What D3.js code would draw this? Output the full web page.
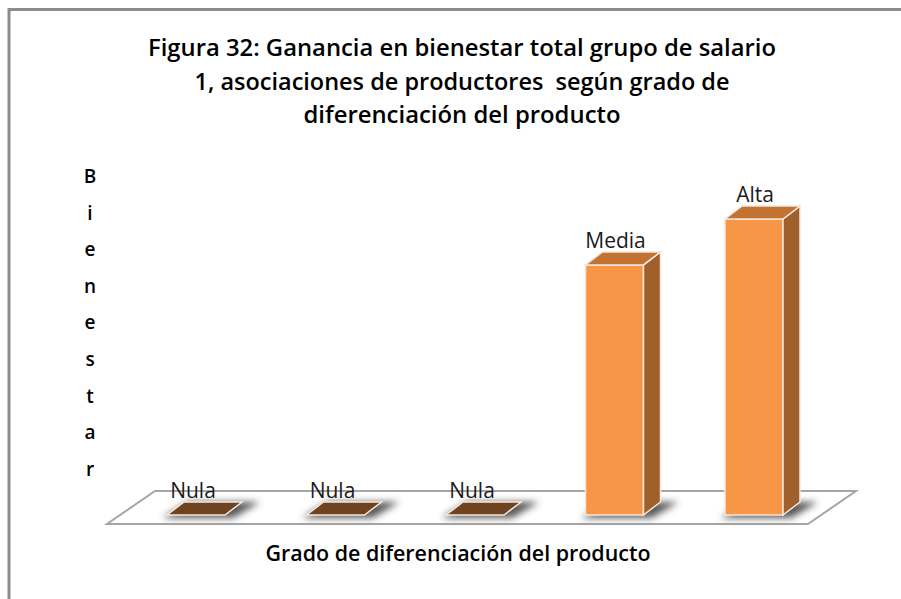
<!DOCTYPE html>
<html>
  <head>
    <meta charset="utf-8" />
    <title>Figura 32</title>
    <script src="https://d3js.org/d3.v7.min.js"></script>
    <style>
      body { margin: 0; background: #fff; }
    </style>
  </head>
  <body>
    <script>
      // datos
      const categorias = ['Nula', 'Nula', 'Nula', 'Media', 'Alta'];
      const valores = [0, 0, 0, 8.45, 10];
      const titulo = [
        'Figura 32: Ganancia en bienestar total grupo de salario',
        '1, asociaciones de productores  según grado de',
        'diferenciación del producto',
      ];
      const ejeY = 'Bienestar';
      const ejeX = 'Grado de diferenciación del producto';

      const W = 901, H = 599;
      const svg = d3.select('body').append('svg').attr('width', W).attr('height', H);

      const defs = svg.append('defs');
      defs.append('filter').attr('id', 'sombra').attr('x', '-30%').attr('y', '-100%')
        .attr('width', '160%').attr('height', '300%')
        .append('feGaussianBlur').attr('stdDeviation', 3.5);

      // marco
      svg.append('path')
        .attr('d', 'M9,599 V9.5 H901')
        .attr('fill', 'none')
        .attr('stroke', '#8c8c8c')
        .attr('stroke-width', 3);

      // titulo
      const tituloFont = '"Open Sans", "Liberation Sans", Arial, sans-serif';
      const anchos = [628, 535, 317];
      const bases = [56, 90, 123];
      svg.selectAll('text.titulo')
        .data(titulo)
        .enter()
        .append('text')
        .attr('class', 'titulo')
        .attr('x', 462)
        .attr('y', (d, i) => bases[i])
        .attr('text-anchor', 'middle')
        .attr('textLength', (d, i) => anchos[i])
        .attr('lengthAdjust', 'spacingAndGlyphs')
        .style('font-family', tituloFont)
        .style('font-weight', 600)
        .style('font-size', '23px')
        .style('white-space', 'pre')
        .style('fill', '#000')
        .text((d) => d);

      // escalas
      const x = d3.scalePoint().domain(d3.range(categorias.length)).range([196, 754]);
      const y = d3.scaleLinear().domain([0, 10]).range([515, 219]);
      const bw = 58;
      const dx = 17, dy = -13;
      const y0 = y(0);

      // piso
      const fx0 = x(0) - 89, fx1 = x(categorias.length - 1) + 54;
      const fy = y0 + 9;
      const fdx = 48, fdy = -33;
      svg.append('polygon')
        .attr('points', [
          [fx0, fy], [fx1, fy], [fx1 + fdx, fy + fdy], [fx0 + fdx, fy + fdy],
        ].map((p) => p.join(',')).join(' '))
        .attr('fill', '#fff')
        .attr('stroke', '#a6a6a6')
        .attr('stroke-width', 2);

      const barras = svg.selectAll('g.barra')
        .data(valores.map((v, i) => ({ v, i, c: categorias[i] })))
        .enter()
        .append('g')
        .attr('class', 'barra');

      // sombras
      barras.append('polygon')
        .attr('points', (d) => {
          const a = x(d.i) - bw / 2, b = a + bw;
          return [
            [a - 4, y0 + 3], [b + 8, y0 + 3], [b + dx + 18, y0 + dy], [a + dx + 4, y0 + dy],
          ].map((p) => p.join(',')).join(' ');
        })
        .attr('fill', '#3a3a3a')
        .attr('opacity', 0.85)
        .attr('filter', 'url(#sombra)');

      const borde = '#f6e7dc';

      // cara frontal
      barras.filter((d) => d.v > 0)
        .append('rect')
        .attr('x', (d) => x(d.i) - bw / 2)
        .attr('y', (d) => y(d.v))
        .attr('width', bw)
        .attr('height', (d) => y0 - y(d.v))
        .attr('fill', '#f79646')
        .attr('stroke', borde)
        .attr('stroke-width', 1.5);

      // cara lateral
      barras.filter((d) => d.v > 0)
        .append('polygon')
        .attr('points', (d) => {
          const b = x(d.i) + bw / 2, t = y(d.v);
          return [[b, t], [b + dx, t + dy], [b + dx, y0 + dy], [b, y0]]
            .map((p) => p.join(',')).join(' ');
        })
        .attr('fill', '#a0602c')
        .attr('stroke', borde)
        .attr('stroke-width', 1.5);

      // cara superior
      barras.append('polygon')
        .attr('points', (d) => {
          const a = x(d.i) - bw / 2, b = a + bw, t = y(d.v);
          return [[a, t], [a + dx, t + dy], [b + dx, t + dy], [b, t]]
            .map((p) => p.join(',')).join(' ');
        })
        .attr('fill', (d) => (d.v > 0 ? '#c27332' : '#6f4220'))
        .attr('stroke', borde)
        .attr('stroke-width', 1.5);

      // etiquetas
      barras.append('text')
        .attr('x', (d) => x(d.i) + (d.v > 0 ? 1 : -3))
        .attr('y', (d) => y(d.v) + dy - 4)
        .attr('text-anchor', 'middle')
        .style('font-family', '"Open Sans", sans-serif')
        .style('font-size', '21px')
        .style('fill', '#1a1a1a')
        .text((d) => d.c);

      // titulo eje y (letras apiladas)
      svg.selectAll('text.ejey')
        .data(ejeY.split(''))
        .enter()
        .append('text')
        .attr('class', 'ejey')
        .attr('x', 90)
        .attr('y', (d, i) => 183 + i * 36.6)
        .attr('text-anchor', 'middle')
        .style('font-family', '"Open Sans", sans-serif')
        .style('font-weight', 600)
        .style('font-size', '19px')
        .text((d) => d);

      // titulo eje x
      svg.append('text')
        .attr('x', 458)
        .attr('y', 561)
        .attr('text-anchor', 'middle')
        .attr('textLength', 385)
        .attr('lengthAdjust', 'spacingAndGlyphs')
        .style('font-family', tituloFont)
        .style('font-weight', 600)
        .style('font-size', '21px')
        .text(ejeX);
    </script>
  </body>
</html>
